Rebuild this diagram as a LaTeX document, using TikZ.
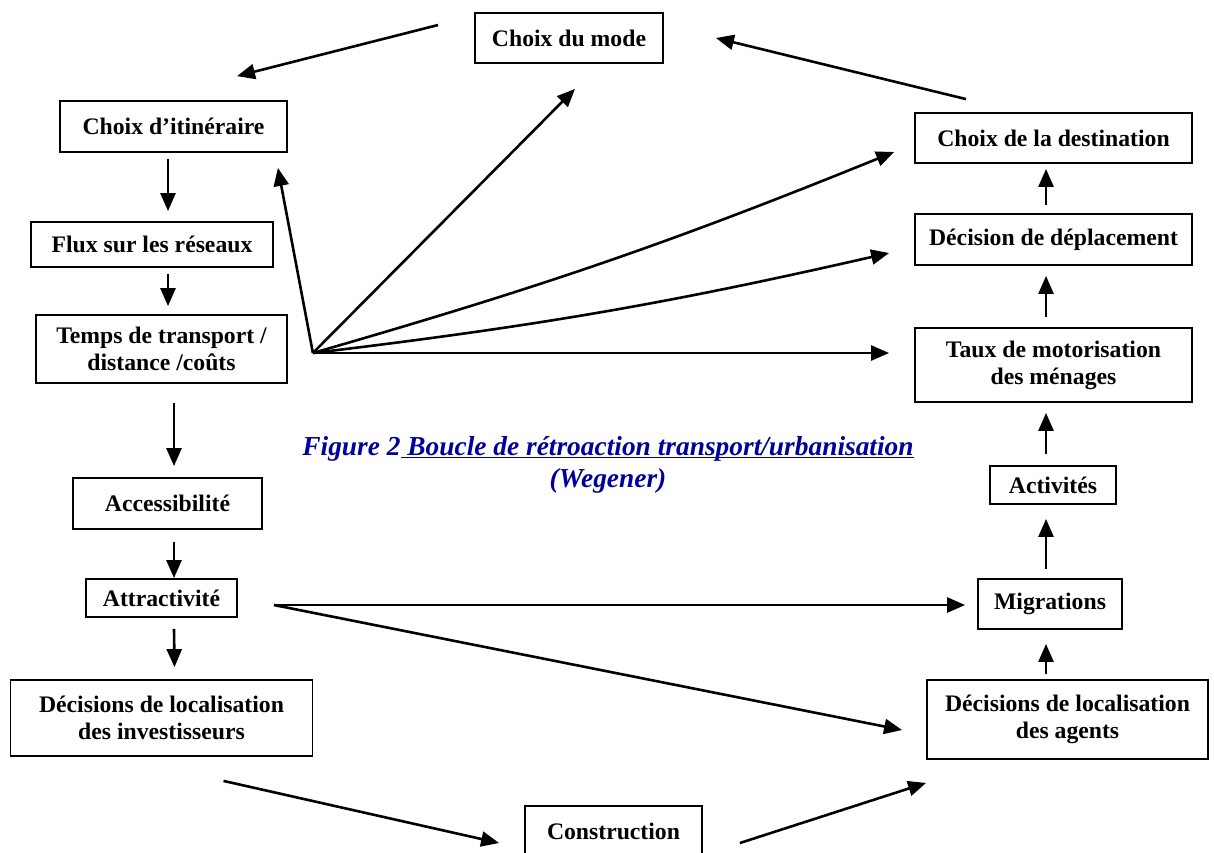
\documentclass[tikz,border=0pt]{standalone}
\usepackage{fontspec}
\setmainfont{Liberation Serif}
\usepackage{tikz}
\usetikzlibrary{arrows.meta,positioning,calc}
\definecolor{capblue}{RGB}{0,0,153}

\begin{document}
\begin{tikzpicture}[
    x=1pt, y=-1pt,
    node distance=100pt,
    box/.style={rectangle, draw=black, line width=1.8pt, inner sep=0pt, align=center, font=\fontsize{23.7}{27}\selectfont\bfseries},
    arrow/.style={-{Triangle[length=18pt,width=15pt]}, line width=2.6pt}
]
\useasboundingbox (0,0) rectangle (1214,852);

\node[box, minimum width=188pt, minimum height=50pt] (mode) at (569,38) {Choix du mode};

\node[box, minimum width=227pt, minimum height=51pt] (itin) at (173.5,126.5) {Choix d'itinéraire};
\node[box, below of=itin, node distance=118pt, xshift=-21.5pt, minimum width=242pt, minimum height=45pt] (flux) {Flux sur les réseaux};
\node[box, below of=flux, node distance=104.5pt, xshift=9.5pt, minimum width=251pt, minimum height=68pt] (temps) {Temps de transport /\\distance /coûts};
\node[box, below of=temps, node distance=154.5pt, xshift=6pt, minimum width=189pt, minimum height=51pt] (access) {Accessibilité};
\node[box, below of=access, node distance=94.5pt, xshift=-6pt, minimum width=151pt, minimum height=38pt] (attract) {Attractivité};
\node[box, below of=attract, node distance=120pt, minimum width=302pt, minimum height=76pt] (invest) {Décisions de localisation\\des investisseurs};

\node[box, minimum width=277pt, minimum height=50pt] (dest) at (1053.5,138) {Choix de la destination};
\node[box, below of=dest, node distance=101.5pt, minimum width=277pt, minimum height=51pt] (decis) {Décision de déplacement};
\node[box, below of=decis, node distance=125.5pt, minimum width=277pt, minimum height=74pt] (taux) {Taux de motorisation\\des ménages};
\node[box, below of=taux, node distance=120pt, xshift=-0.5pt, minimum width=126pt, minimum height=38pt] (activ) {Activités};
\node[box, below of=activ, node distance=119pt, xshift=-3pt, minimum width=144pt, minimum height=50pt] (migr) {Migrations};
\node[box, below of=migr, node distance=115.5pt, xshift=17.5pt, minimum width=281pt, minimum height=79pt] (agents) {Décisions de localisation\\des agents};

\node[box, minimum width=177pt, minimum height=51pt] (constr) at (613.5,831.5) {Construction};

\node[text=capblue, inner sep=0pt, align=center, font=\fontsize{27.4}{32}\selectfont\bfseries\itshape] (caption) at (608,465) {Figure 2\underline{\smash{\ Boucle de rétroaction transport/urbanisation}}\\(Wegener)};

\coordinate (hubT) at ($(temps.east)+(25,4)$);
\coordinate (hubA) at ($(attract.east)+(36,7)$);

\draw[arrow] ($(itin.south)+(-5.5,6)$) -- ($(flux.north)+(16,-10)$);
\draw[arrow] ($(flux.south)+(16,6)$) -- ($(temps.north)+(6.5,-8)$);
\draw[arrow] ($(temps.south)+(12.5,19)$) -- ($(access.north)+(6.5,-11)$);
\draw[arrow] ($(access.south)+(6.5,12)$) -- ($(attract.north)+(12.5,0)$);
\draw[arrow] ($(attract.south)+(12.5,11)$) -- ($(invest.north)+(13,-12)$);

\draw[arrow] ($(agents.north)+(-21.5,-5)$) -- ($(migr.south)+(-4,14)$);
\draw[arrow] ($(migr.north)+(-4,-9)$) -- ($(activ.south)+(-7,14)$);
\draw[arrow] ($(activ.north)+(-7,-11)$) -- ($(taux.south)+(-7.5,10)$);
\draw[arrow] ($(taux.north)+(-7.5,-10)$) -- ($(decis.south)+(-7.5,10)$);
\draw[arrow] ($(decis.north)+(-7.5,-8)$) -- ($(dest.south)+(-7.5,5)$);

\draw[arrow] ($(mode.west)+(-36,-13)$) -- ($(itin.north)+(63.5,-24)$);
\draw[arrow] ($(dest.north)+(-87.5,-13)$) -- ($(mode.east)+(52,0)$);
\draw[arrow] ($(invest.south)+(62,24)$) -- ($(constr.west)+(-25,11.5)$);
\draw[arrow] ($(constr.east)+(37,11.5)$) -- ($(agents.south west)+(0,23)$);

\draw[arrow] (hubT) -- ($(itin.south east)+(-10,15)$);
\draw[arrow] (hubT) -- ($(mode.south)+(6,25)$);
\draw[arrow] (hubT) to[bend right=3] ($(dest.west)+(-20,14)$);
\draw[arrow] (hubT) to[bend right=3] ($(decis.west)+(-25,13.5)$);
\draw[arrow] (hubT) -- ($(taux.west)+(-25,-12)$);
\draw[arrow] (hubA) -- ($(migr.west)+(-12,1)$);
\draw[arrow] (hubA) -- ($(agents.west)+(-24,10.5)$);

\end{tikzpicture}
\end{document}
